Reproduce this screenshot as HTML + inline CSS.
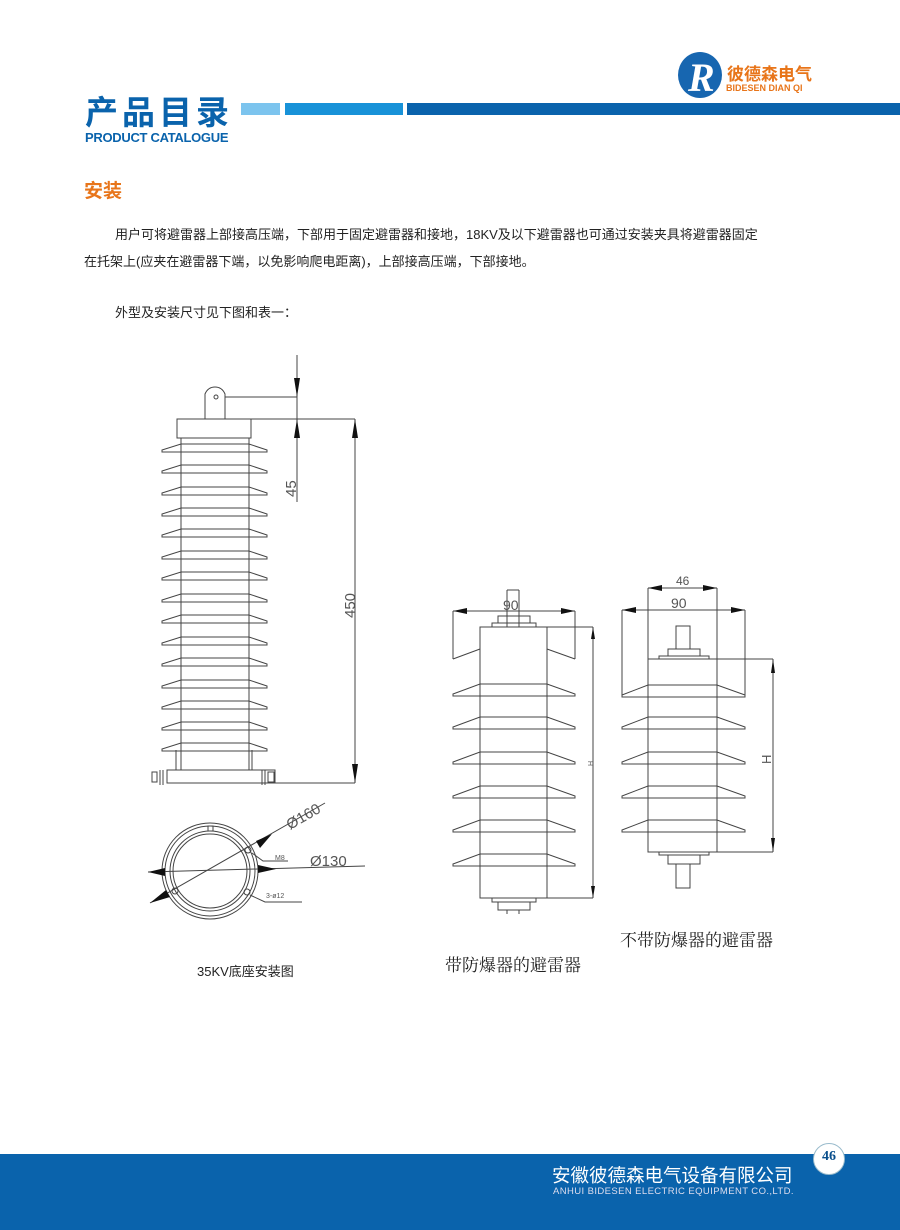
<!DOCTYPE html>
<html><head><meta charset="utf-8"><style>
html,body{margin:0;padding:0;background:#fff}
body{width:900px;height:1230px;position:relative;overflow:hidden;font-family:"Liberation Sans","Noto Sans CJK SC",sans-serif}
.a{position:absolute;white-space:nowrap}
</style></head><body>
<!-- header -->
<div class="a" style="left:678px;top:52px;width:44px;height:46px;border-radius:50%;background:#1766b0"></div>
<div class="a" style="left:688px;top:54px;font:italic bold 40px 'Liberation Serif',serif;color:#fff">R</div>
<div class="a" style="left:727px;top:60px;font-size:17px;font-weight:bold;color:#e8751a;letter-spacing:0px">彼德森电气</div>
<div class="a" style="left:726px;top:83px;font-size:9px;font-weight:bold;color:#e8751a">BIDESEN DIAN QI</div>
<div class="a" style="left:85px;top:86px;font-size:33px;font-weight:bold;color:#0a63ac;letter-spacing:4px">产品目录</div>
<div class="a" style="left:241px;top:103px;width:39px;height:12px;background:#7cc4ee"></div>
<div class="a" style="left:285px;top:103px;width:118px;height:12px;background:#1892d8"></div>
<div class="a" style="left:407px;top:103px;width:493px;height:12px;background:#0a63ac"></div>
<div class="a" style="left:85px;top:130px;font-size:13px;font-weight:bold;color:#0a63ac;letter-spacing:-0.3px">PRODUCT CATALOGUE</div>
<!-- content -->
<div class="a" style="left:84px;top:176px;font-size:19px;font-weight:bold;color:#e8751a">安装</div>
<div class="a" style="left:115px;top:224px;font-size:13px;color:#222">用户可将避雷器上部接高压端，下部用于固定避雷器和接地，18KV及以下避雷器也可通过安装夹具将避雷器固定</div>
<div class="a" style="left:84px;top:251px;font-size:13px;color:#222">在托架上(应夹在避雷器下端，以免影响爬电距离)，上部接高压端，下部接地。</div>
<div class="a" style="left:115px;top:302px;font-size:13px;color:#222">外型及安装尺寸见下图和表一：</div>

<svg class="a" style="left:0;top:0" width="900" height="1230" viewBox="0 0 900 1230">
<defs>
<g id="shed" fill="none" stroke="#444" stroke-width="1">
<path d="M181,0 L249,0 L267,6 L267,8 L162,8 L162,6 Z"/>
</g>
<g id="shedA" fill="none" stroke="#444" stroke-width="1">
<path d="M480,0 L547,0 L575,10 L575,12 L453,12 L453,10 Z"/>
</g>
<g id="shedB" fill="none" stroke="#444" stroke-width="1">
<path d="M648,0 L717,0 L745,10 L745,12 L622,12 L622,10 Z"/>
</g>
</defs>
<g fill="none" stroke="#444" stroke-width="1">
<path d="M205,419 L205,394 Q208,387 215,387 Q222,387 225,394 L225,419"/>
<circle cx="216" cy="397" r="2"/>
<rect x="177" y="419" width="74" height="19"/>
<line x1="181" y1="438" x2="181" y2="770"/><line x1="249" y1="438" x2="249" y2="770"/>
<line x1="176" y1="750" x2="176" y2="770"/><line x1="252" y1="750" x2="252" y2="770"/>
<rect x="167" y="770" width="108" height="13"/>
<rect x="152" y="772" width="5" height="10"/><line x1="160" y1="770" x2="160" y2="785"/><line x1="163" y1="770" x2="163" y2="785"/>
<rect x="268" y="772" width="6" height="10"/><line x1="262" y1="770" x2="262" y2="785"/><line x1="265" y1="770" x2="265" y2="785"/>
<line x1="297" y1="355" x2="297" y2="502"/>
<line x1="225" y1="397" x2="297" y2="397"/>
<line x1="215" y1="419" x2="355" y2="419"/>
<line x1="355" y1="419" x2="355" y2="783"/>
<line x1="245" y1="783" x2="355" y2="783"/>
<circle cx="210" cy="871" r="48"/><circle cx="210" cy="871" r="45"/>
<circle cx="210" cy="871" r="40"/><circle cx="210" cy="871" r="37"/>
<circle cx="248" cy="850" r="3"/><circle cx="175" cy="891" r="3"/><circle cx="247" cy="892" r="3"/>
<rect x="208" y="826" width="5" height="5"/>
<line x1="150" y1="903" x2="325" y2="803"/>
<line x1="148" y1="872" x2="365" y2="866"/>
<polyline points="252,853 263,861 288,861"/>
<polyline points="250,895 265,902 302,902"/>
<rect x="480" y="627" width="67" height="271"/>
<line x1="453" y1="611" x2="575" y2="611"/>
<line x1="453" y1="611" x2="453" y2="659"/><line x1="575" y1="611" x2="575" y2="659"/>
<line x1="453" y1="659" x2="480" y2="649"/><line x1="575" y1="659" x2="547" y2="649"/>
<rect x="492" y="623" width="44" height="4"/><rect x="498" y="616" width="32" height="7"/>
<line x1="507" y1="590" x2="507" y2="627"/><line x1="519" y1="590" x2="519" y2="627"/>
<line x1="507" y1="590" x2="519" y2="590"/>
<rect x="492" y="898" width="44" height="4"/><rect x="498" y="902" width="32" height="8"/>
<line x1="507" y1="910" x2="507" y2="914"/><line x1="519" y1="910" x2="519" y2="914"/>
<line x1="547" y1="627" x2="593" y2="627"/><line x1="547" y1="898" x2="593" y2="898"/>
<line x1="593" y1="627" x2="593" y2="898"/>
<rect x="648" y="659" width="69" height="193"/>
<line x1="648" y1="588" x2="648" y2="659"/><line x1="717" y1="588" x2="717" y2="659"/>
<line x1="648" y1="588" x2="717" y2="588"/>
<line x1="622" y1="610" x2="745" y2="610"/>
<line x1="622" y1="610" x2="622" y2="695"/><line x1="745" y1="610" x2="745" y2="695"/>
<rect x="676" y="626" width="14" height="23"/>
<rect x="668" y="649" width="32" height="7"/><rect x="659" y="656" width="50" height="3"/>
<rect x="659" y="852" width="50" height="3"/><rect x="668" y="855" width="32" height="9"/>
<rect x="676" y="864" width="14" height="24"/>
<line x1="700" y1="659" x2="773" y2="659"/><line x1="717" y1="852" x2="773" y2="852"/>
<line x1="773" y1="659" x2="773" y2="852"/>
</g>
<use href="#shed" y="444"/><use href="#shed" y="465"/><use href="#shed" y="487"/><use href="#shed" y="508"/>
<use href="#shed" y="529"/><use href="#shed" y="551"/><use href="#shed" y="572"/><use href="#shed" y="594"/>
<use href="#shed" y="615"/><use href="#shed" y="637"/><use href="#shed" y="658"/><use href="#shed" y="680"/>
<use href="#shed" y="701"/><use href="#shed" y="722"/><use href="#shed" y="743"/>
<use href="#shedA" y="684"/><use href="#shedA" y="717"/><use href="#shedA" y="752"/><use href="#shedA" y="786"/><use href="#shedA" y="820"/><use href="#shedA" y="854"/>
<use href="#shedB" y="685"/><use href="#shedB" y="717"/><use href="#shedB" y="752"/><use href="#shedB" y="786"/><use href="#shedB" y="820"/>
<g fill="#111">
<polygon points="294,378 300,378 297,397"/><polygon points="294,438 300,438 297,419"/>
<polygon points="352,438 358,438 355,419"/><polygon points="352,764 358,764 355,783"/>
<polygon points="453,611 467,608 467,614"/><polygon points="575,611 561,608 561,614"/>
<polygon points="622,610 636,607 636,613"/><polygon points="745,610 731,607 731,613"/>
<polygon points="648,588 662,585 662,591"/><polygon points="717,588 703,585 703,591"/>
<polygon points="773,659 771,673 775,673"/><polygon points="773,852 771,838 775,838"/>
<polygon points="593,627 591,639 595,639"/><polygon points="593,898 591,886 595,886"/>
<polygon points="150,903 166,890 170,897"/><polygon points="272,834 256,841 260,848"/>
<polygon points="148,872 165,868 165,876"/><polygon points="276,869 258,865 258,873"/>
</g>
<g fill="#555" font-family="Liberation Sans,sans-serif">
<text transform="translate(296,497) rotate(-90)" font-size="15">45</text>
<text transform="translate(355,618) rotate(-90)" font-size="15">450</text>
<text transform="translate(290,830) rotate(-30)" font-size="15">Ø160</text>
<text x="310" y="866" font-size="15">Ø130</text>
<text x="275" y="860" font-size="7">M8</text>
<text x="266" y="898" font-size="7">3-ø12</text>
<text x="503" y="610" font-size="14">90</text>
<text x="676" y="585" font-size="12">46</text>
<text x="671" y="608" font-size="14">90</text>
<text transform="translate(771,764) rotate(-90)" font-size="13">H</text>
<text transform="translate(593,766) rotate(-90)" font-size="7">H</text>
</g>
</svg>
<div class="a" style="left:197px;top:961px;font-size:13px;color:#222">35KV底座安装图</div>
<div class="a" style="left:445px;top:951px;font:17px 'Liberation Serif','Noto Serif CJK SC',serif;color:#222">带防爆器的避雷器</div>
<div class="a" style="left:620px;top:926px;font:17px 'Liberation Serif','Noto Serif CJK SC',serif;color:#222">不带防爆器的避雷器</div>
<div class="a" style="left:0;top:1154px;width:900px;height:76px;background:#0a63ac"></div>
<div class="a" style="left:813px;top:1143px;width:30px;height:30px;border-radius:50%;background:#fff;border:1px solid #9bc"></div>
<div class="a" style="left:813px;top:1149px;width:32px;text-align:center;font:bold 14px 'Liberation Serif',serif;color:#0a4f8c">46</div>
<div class="a" style="left:552px;top:1162px;font-size:18.5px;color:#fff">安徽彼德森电气设备有限公司</div>
<div class="a" style="left:553px;top:1186px;font-size:9.5px;color:#dde;letter-spacing:0.4px">ANHUI BIDESEN ELECTRIC EQUIPMENT CO.,LTD.</div>
</body></html>
